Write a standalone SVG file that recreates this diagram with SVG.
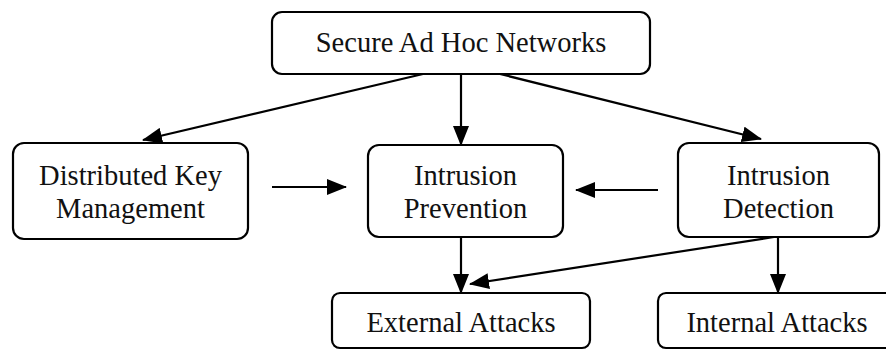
<svg xmlns="http://www.w3.org/2000/svg" width="886" height="350" viewBox="0 0 886 350">
<style>
.box{fill:#fff;stroke:#000;stroke-width:2.2}
.t{font-size:28.5px;fill:#111;text-anchor:middle}
.c{stroke:#000;stroke-width:2.2;fill:none;marker-end:url(#ah)}
</style>
<defs>
<marker id="ah" markerUnits="userSpaceOnUse" markerWidth="20" markerHeight="16" viewBox="0 0 20 16" refX="19" refY="8" orient="auto">
<path d="M0,0 L20,8 L0,16 Z" fill="#000"/>
</marker>
</defs>
<rect width="886" height="350" fill="#fff"/>
<g id="connectors">
<line class="c" x1="423" y1="74" x2="143" y2="140"/>
<line class="c" x1="461" y1="74" x2="461" y2="145"/>
<line class="c" x1="500" y1="74" x2="761" y2="139"/>
<line class="c" x1="272" y1="187" x2="346" y2="187"/>
<line class="c" x1="658" y1="190" x2="576" y2="190"/>
<line class="c" x1="461" y1="238" x2="461" y2="293"/>
<line class="c" x1="774" y1="237" x2="470" y2="284"/>
<line class="c" x1="778" y1="238" x2="778" y2="293"/>
</g>
<g font-family="Liberation Serif, DejaVu Serif, serif">
<g id="secure">
<rect class="box" x="272" y="12" width="378" height="62" rx="10"/>
<text class="t" x="461" y="52">Secure Ad Hoc Networks</text>
</g>
<g id="dkm">
<rect class="box" x="13" y="143" width="235" height="96" rx="11"/>
<text class="t" x="130.5" y="185">Distributed Key</text>
<text class="t" x="130.5" y="218">Management</text>
</g>
<g id="prevention">
<rect class="box" x="368" y="145" width="195" height="92" rx="11"/>
<text class="t" x="465.5" y="185">Intrusion</text>
<text class="t" x="465.5" y="218">Prevention</text>
</g>
<g id="detection">
<rect class="box" x="678" y="143" width="201" height="94" rx="11"/>
<text class="t" x="778.5" y="185">Intrusion</text>
<text class="t" x="778.5" y="218">Detection</text>
</g>
<g id="external">
<rect class="box" x="332" y="293" width="258" height="55" rx="8"/>
<text class="t" x="461" y="332">External Attacks</text>
</g>
<g id="internal">
<rect class="box" x="658" y="293" width="250" height="55" rx="8"/>
<text class="t" x="777" y="332">Internal Attacks</text>
</g>
</g>
</svg>
